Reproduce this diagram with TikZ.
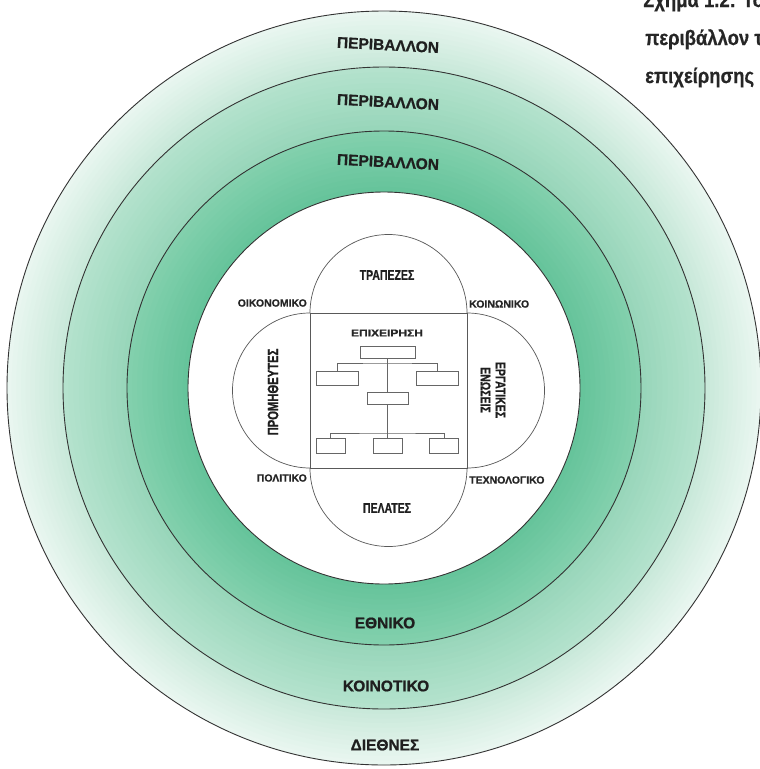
\documentclass[tikz,border=0pt]{standalone}
\usepackage{fontspec}
\usepackage{graphicx}
\setmainfont{Liberation Sans}
\newfontfamily\heavyfont[FakeBold=0.8]{Liberation Sans}
\newfontfamily\condfont[FakeStretch=0.75,FakeBold=0.8]{Liberation Sans}
\newfontfamily\capfont[FakeStretch=0.88,FakeBold=0.6]{Liberation Sans}
\definecolor{ringAout}{HTML}{E9F6F0}
\definecolor{ringAin}{HTML}{C9E9DA}
\definecolor{ringBout}{HTML}{B4E2CD}
\definecolor{ringBin}{HTML}{98D6BA}
\definecolor{ringCout}{HTML}{82D0AD}
\definecolor{ringCin}{HTML}{66C49B}
\begin{document}
\begin{tikzpicture}[x=1pt,y=-1pt,
  ringline/.style={draw=black!80,line width=0.9pt},
  lobe/.style={draw=black!65,line width=0.7pt},
  orgbox/.style={draw=black!60,line width=0.6pt,inner sep=0pt,fill=white},
  orgline/.style={draw=black!60,line width=0.6pt},
  ringlab/.style={font=\heavyfont\bfseries\fontsize{15.5}{18}\selectfont,text=black!88,inner sep=0pt},
  inlab/.style={font=\condfont\bfseries\fontsize{14}{15}\selectfont,text=black!88,inner sep=0pt,align=center},
  cornerlab/.style={font=\heavyfont\bfseries\fontsize{10.5}{12}\selectfont,text=black!85,inner sep=0pt},
  captext/.style={font=\capfont\bfseries\fontsize{21}{24}\selectfont,text=black!85,inner sep=0pt}]
\useasboundingbox (0,0) rectangle (760,769);
\fill[white] (0,0) rectangle (760,769);
\coordinate (C) at (384,388);
% ring gradients
\foreach \i [evaluate=\i as \rr using 377-\i*56/12, evaluate=\i as \p using int(\i*100/11)] in {0,...,11}
  \fill[ringAin!\p!ringAout] (C) circle[radius=\rr pt];
\foreach \i [evaluate=\i as \rr using 321-\i*64/12, evaluate=\i as \p using int(\i*100/11)] in {0,...,11}
  \fill[ringBin!\p!ringBout] (C) circle[radius=\rr pt];
\foreach \i [evaluate=\i as \rr using 257-\i*61/12, evaluate=\i as \p using int(\i*100/11)] in {0,...,11}
  \fill[ringCin!\p!ringCout] (C) circle[radius=\rr pt];
\draw[ringline] (C) circle[radius=377pt];
\draw[ringline] (C) circle[radius=321pt];
\draw[ringline] (C) circle[radius=257pt];
\draw[ringline,fill=white] (C) circle[radius=196pt];
% quatrefoil
\coordinate (TL) at (310,313);
\coordinate (TR) at (467,313);
\coordinate (BL) at (310,468);
\coordinate (BR) at (467,468);
\draw[lobe] (TL) rectangle (BR);
\draw[lobe] (TL) arc[start angle=180,end angle=0,radius=78.5pt];
\draw[lobe] (TL) arc[start angle=90,end angle=270,radius=77.5pt];
\draw[lobe] (TR) arc[start angle=90,end angle=-90,radius=77.5pt];
\draw[lobe] (BL) arc[start angle=180,end angle=360,radius=78.5pt];
% ring labels
\node[ringlab,rotate=-3] (env1) at (388,45) {ΠΕΡΙΒΑΛΛΟΝ};
\node[ringlab,rotate=-3] (env2) at (388,102) {ΠΕΡΙΒΑΛΛΟΝ};
\node[ringlab,rotate=-3] (env3) at (388,162) {ΠΕΡΙΒΑΛΛΟΝ};
\node[ringlab] (ethn) at (385,623) {ΕΘΝΙΚΟ};
\node[ringlab] (koin) at (386,686) {ΚΟΙΝΟΤΙΚΟ};
\node[ringlab] (dieth) at (385,745) {ΔΙΕΘΝΕΣ};
% inner labels
\node[inlab] (trap) at (387,275) {ΤΡΑΠΕΖΕΣ};
\node[inlab] (pel) at (387,508) {ΠΕΛΑΤΕΣ};
\node[inlab,rotate=90,font=\condfont\bfseries\fontsize{15}{16}\selectfont] (prom) at (273,392) {ΠΡΟΜΗΘΕΥΤΕΣ};
\node[inlab,rotate=-90] (erg) at (493,390) {ΕΡΓΑΤΙΚΕΣ\\ΕΝΩΣΕΙΣ};
\node[cornerlab,anchor=east] (oik) at (307,303) {ΟΙΚΟΝΟΜΙΚΟ};
\node[cornerlab,anchor=west] (koinon) at (469,304) {ΚΟΙΝΩΝΙΚΟ};
\node[cornerlab,anchor=east] (pol) at (307,478) {ΠΟΛΙΤΙΚΟ};
\node[cornerlab,anchor=west] (tech) at (469,480) {ΤΕΧΝΟΛΟΓΙΚΟ};
\node[inner sep=0pt,text=black!85] (epix) at (387,333) {\scalebox{1.2}[1]{\heavyfont\bfseries\fontsize{10}{12}\selectfont ΕΠΙΧΕΙΡΗΣΗ}};
% org chart
\coordinate (bus1) at (387.5,363);
\coordinate (bus2) at (387.5,433);
\draw[orgline] (387.5,358.5) -- (bus2);
\node[orgbox,minimum width=55pt,minimum height=12pt] (o1) at (387.5,352.5) {};
\node[orgbox,minimum width=42pt,minimum height=14pt] (o2l) at (337,378) {};
\node[orgbox,minimum width=42pt,minimum height=14pt] (o2r) at (437,378) {};
\node[orgbox,minimum width=41pt,minimum height=12pt] (o3) at (387.5,398) {};
\node[orgbox,minimum width=29pt,minimum height=15pt] (o4l) at (330.5,445.5) {};
\node[orgbox,minimum width=29pt,minimum height=15pt] (o4m) at (387.5,445.5) {};
\node[orgbox,minimum width=29pt,minimum height=15pt] (o4r) at (444,445.5) {};
\draw[orgline] (o1.south) -- (o3.north);
\draw[orgline] (o3.south) -- (o4m.north);
\draw[orgline] (o2l.north) |- (bus1) -| (o2r.north);
\draw[orgline] (o4l.north) |- (bus2) -| (o4r.north);
% caption
\begin{scope}
\clip (0,0) rectangle (760,769);
\node[captext,anchor=base west] (cap1) at (643,7) {Σχήμα 1.2: Το ευρύτερο};
\node[captext,anchor=base west] (cap2) at (645,45) {περιβάλλον της};
\node[captext,anchor=base west] (cap3) at (645,83) {επιχείρησης};
\end{scope}
\end{tikzpicture}
\end{document}
